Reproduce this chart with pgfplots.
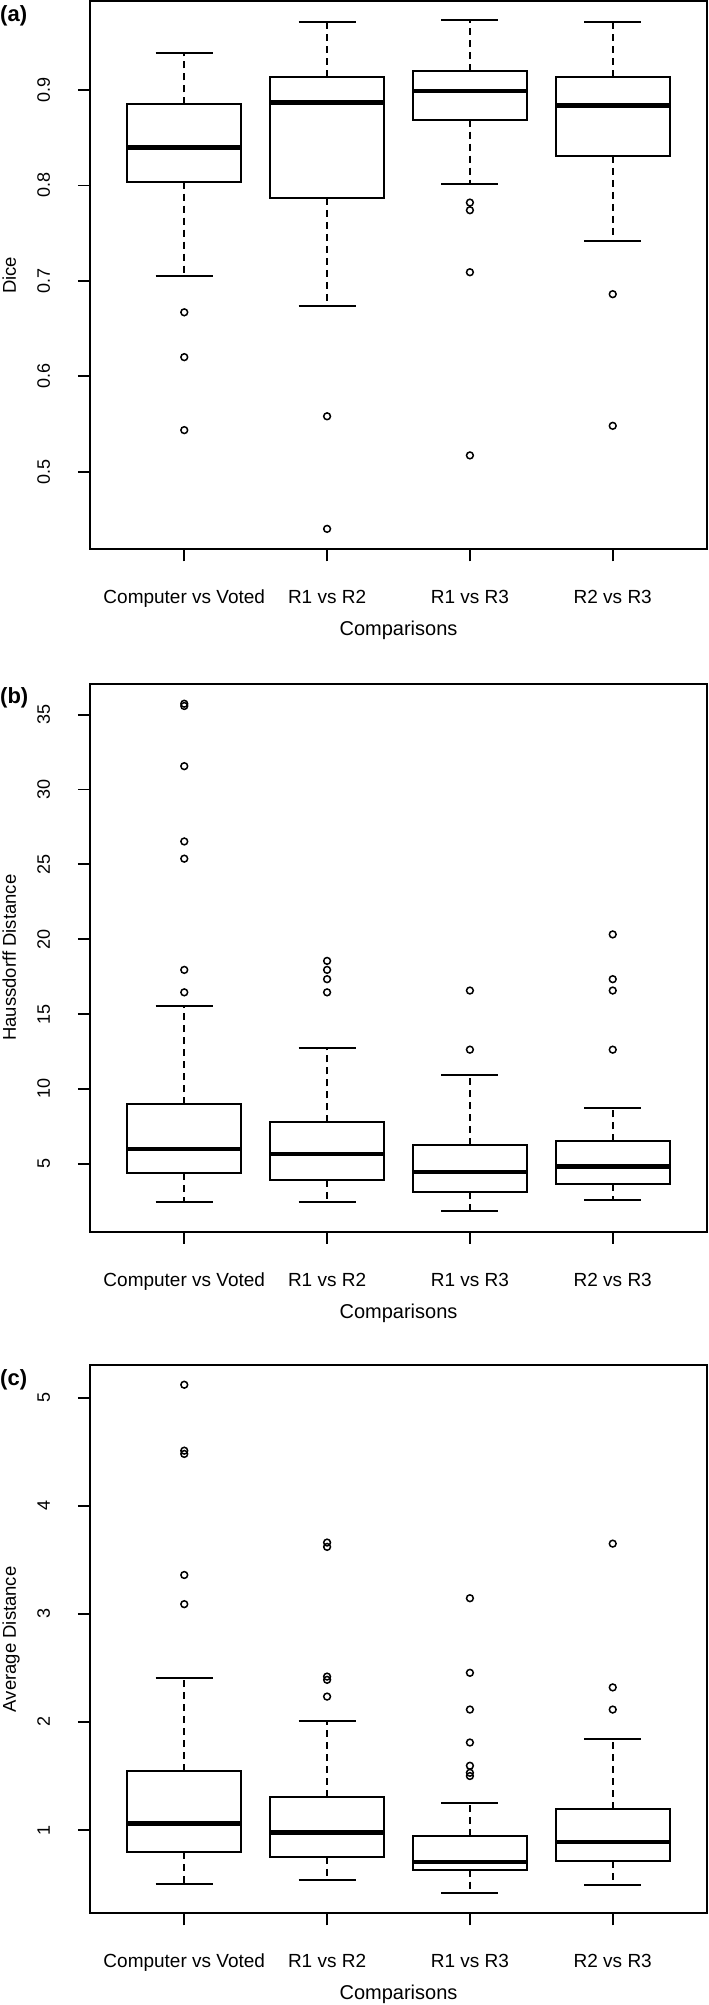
\documentclass[border=0pt]{standalone}
\usepackage{fontspec}
\setmainfont{Liberation Sans}
\usepackage{pgfplots}
\pgfplotsset{compat=1.18}
\usepgfplotslibrary{statistics}

\pgfplotsset{
  rbox/.style={
    scale only axis, width=617pt, height=548pt,
    xmin=0.34, xmax=4.66,
    xtick={1,2,3,4},
    xticklabels={Computer vs Voted, R1 vs R2, R1 vs R3, R2 vs R3},
    xtick pos=bottom, ytick pos=left,
    tick align=outside,
    major tick length=12pt,
    every tick/.style={black, line width=1.8pt},
    axis line style={black, line width=1.9pt},
    /pgf/number format/assume math mode=true,
    xticklabel style={font=\fontsize{19}{22}\selectfont, anchor=base, yshift=-42.4pt},
    yticklabel style={font=\fontsize{18}{22}\selectfont, xshift=-28pt, rotate=90, anchor=base},
    every axis x label/.style={at={(axis description cs:0.5,0)}, yshift=-86.5pt, anchor=base, font=\fontsize{20}{24}\selectfont},
    every axis y label/.style={at={(axis description cs:0,0.5)}, xshift=-74pt, rotate=90, anchor=base, font=\fontsize{18.5}{22}\selectfont},
    xlabel={Comparisons},
    boxplot/draw direction=y,
    boxplot/box extend=0.8,
    boxplot/whisker extend=0.4,
    boxplot/every box/.style={draw=black, line width=2pt},
    boxplot/every median/.style={draw=black, line width=4.6pt},
    boxplot/draw/lower whisker/.code={%
      \draw[black, line width=1.8pt, dash pattern=on 7pt off 5pt]
        (boxplot box cs:\pgfplotsboxplotvalue{lower quartile},0.5) --
        (boxplot box cs:\pgfplotsboxplotvalue{lower whisker},0.5);
      \draw[black, line width=2pt]
        (boxplot whisker cs:\pgfplotsboxplotvalue{lower whisker},0) --
        (boxplot whisker cs:\pgfplotsboxplotvalue{lower whisker},1);
    },
    boxplot/draw/upper whisker/.code={%
      \draw[black, line width=1.8pt, dash pattern=on 7pt off 5pt]
        (boxplot box cs:\pgfplotsboxplotvalue{upper quartile},0.5) --
        (boxplot box cs:\pgfplotsboxplotvalue{upper whisker},0.5);
      \draw[black, line width=2pt]
        (boxplot whisker cs:\pgfplotsboxplotvalue{upper whisker},0) --
        (boxplot whisker cs:\pgfplotsboxplotvalue{upper whisker},1);
    },
  },
  outl/.style={only marks, mark=o, mark size=3.4pt, mark options={line width=1.5pt, draw=black}},
}

\begin{document}
\begin{tikzpicture}
\path[use as bounding box] (0pt,0pt) rectangle (709pt,2005pt);

% ---------------- (a) Dice ----------------
\begin{axis}[rbox, at={(90pt,1455.7pt)}, anchor=south west,
  ymin=0.4186, ymax=0.993, ytick={0.5,0.6,0.7,0.8,0.9},
  ylabel={Dice}]
\addplot[boxplot prepared={draw position=1, lower whisker=0.705, lower quartile=0.804, median=0.840, upper quartile=0.885, upper whisker=0.939}] coordinates {};
\addplot[boxplot prepared={draw position=2, lower whisker=0.674, lower quartile=0.787, median=0.887, upper quartile=0.914, upper whisker=0.971}] coordinates {};
\addplot[boxplot prepared={draw position=3, lower whisker=0.801, lower quartile=0.869, median=0.899, upper quartile=0.920, upper whisker=0.973}] coordinates {};
\addplot[boxplot prepared={draw position=4, lower whisker=0.742, lower quartile=0.831, median=0.884, upper quartile=0.914, upper whisker=0.971}] coordinates {};
\addplot[outl] coordinates {
  (1,0.667) (1,0.620) (1,0.5435)
  (2,0.558) (2,0.440)
  (3,0.782) (3,0.774) (3,0.709) (3,0.517)
  (4,0.686) (4,0.548)};
\end{axis}

% ---------------- (b) Haussdorff ----------------
\begin{axis}[rbox, at={(90pt,773.3pt)}, anchor=south west,
  ymin=0.46, ymax=37.07, ytick={5,10,15,20,25,30,35},
  ylabel={Haussdorff Distance}]
\addplot[boxplot prepared={draw position=1, lower whisker=2.45, lower quartile=4.37, median=5.99, upper quartile=8.98, upper whisker=15.56}] coordinates {};
\addplot[boxplot prepared={draw position=2, lower whisker=2.45, lower quartile=3.92, median=5.65, upper quartile=7.77, upper whisker=12.73}] coordinates {};
\addplot[boxplot prepared={draw position=3, lower whisker=1.82, lower quartile=3.09, median=4.46, upper quartile=6.28, upper whisker=10.95}] coordinates {};
\addplot[boxplot prepared={draw position=4, lower whisker=2.55, lower quartile=3.63, median=4.80, upper quartile=6.49, upper whisker=8.74}] coordinates {};
\addplot[outl] coordinates {
  (1,35.73) (1,35.58) (1,31.56) (1,26.53) (1,25.38) (1,17.95) (1,16.45)
  (2,18.55) (2,17.95) (2,17.33) (2,16.45)
  (3,16.57) (3,12.62)
  (4,20.32) (4,17.33) (4,16.57) (4,12.62)};
\end{axis}

% ---------------- (c) Average distance ----------------
\begin{axis}[rbox, at={(90pt,91.7pt)}, anchor=south west,
  ymin=0.23, ymax=5.30, ytick={1,2,3,4,5},
  ylabel={Average Distance}]
\addplot[boxplot prepared={draw position=1, lower whisker=0.505, lower quartile=0.796, median=1.062, upper quartile=1.545, upper whisker=2.41}] coordinates {};
\addplot[boxplot prepared={draw position=2, lower whisker=0.536, lower quartile=0.752, median=0.975, upper quartile=1.31, upper whisker=2.01}] coordinates {};
\addplot[boxplot prepared={draw position=3, lower whisker=0.418, lower quartile=0.635, median=0.706, upper quartile=0.944, upper whisker=1.25}] coordinates {};
\addplot[boxplot prepared={draw position=4, lower whisker=0.489, lower quartile=0.712, median=0.889, upper quartile=1.195, upper whisker=1.84}] coordinates {};
\addplot[outl] coordinates {
  (1,5.12) (1,4.51) (1,4.48) (1,3.36) (1,3.09)
  (2,3.66) (2,3.62) (2,2.42) (2,2.39) (2,2.235)
  (3,3.145) (3,2.455) (3,2.115) (3,1.81) (3,1.595) (3,1.53) (3,1.50)
  (4,3.65) (4,2.32) (4,2.115)};
\end{axis}

\node[anchor=base west, inner sep=0pt, font=\fontsize{22}{26}\selectfont\bfseries] at (0pt,1983.3pt) {(a)};
\node[anchor=base west, inner sep=0pt, font=\fontsize{22}{26}\selectfont\bfseries] at (0pt,1301.7pt) {(b)};
\node[anchor=base west, inner sep=0pt, font=\fontsize{22}{26}\selectfont\bfseries] at (0pt,619pt) {(c)};
\end{tikzpicture}
\end{document}
